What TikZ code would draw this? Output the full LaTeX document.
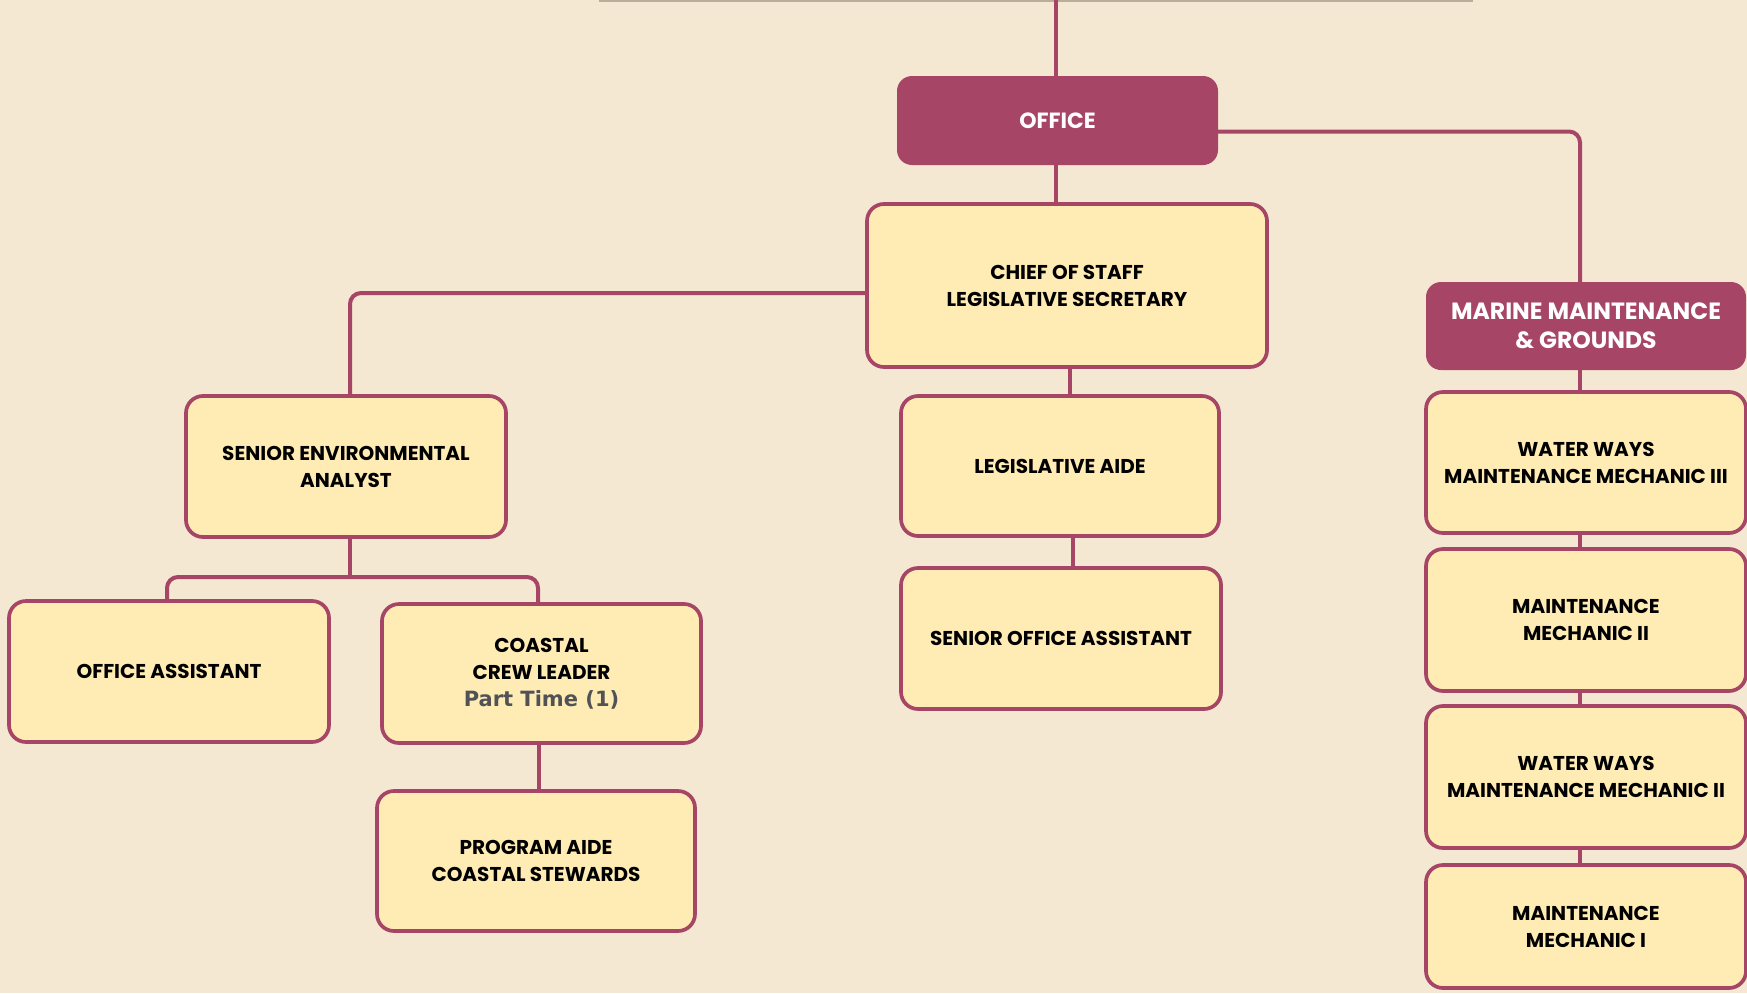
\documentclass[tikz,border=0pt]{standalone}
\usepackage{fontspec}
\setmainfont{Poppins}
\newfontfamily\ptfont{DejaVu Sans}
\usetikzlibrary{calc}
\definecolor{bgc}{HTML}{F5E8D2}
\definecolor{rasp}{HTML}{A64566}
\definecolor{boxfill}{HTML}{FFECB4}
\definecolor{topline}{HTML}{B9AE9C}
\definecolor{ptgray}{HTML}{505256}
\tikzset{
  role/.style={draw=rasp, line width=3.7pt, fill=boxfill, rounded corners=17pt,
    minimum width=#1, align=center, font=\fontsize{20}{27}\selectfont\bfseries, text=black, inner sep=0pt},
  head/.style={draw=none, fill=rasp, rounded corners=15pt, minimum width=#1,
    align=center, text=white, inner sep=0pt},
  conn/.style={draw=rasp, line width=4pt, rounded corners=11pt},
}
\begin{document}
\begin{tikzpicture}[x=1pt,y=-1pt]
\fill[bgc] (0,0) rectangle (1747,993);
\useasboundingbox (0,0) rectangle (1747,993);
% top gray line
\coordinate (tl) at (599,0.5);
\coordinate (tr) at (1473,0.5);
\draw[topline, line width=2pt] (tl) -- (tr);
% nodes
\node[head=321pt, minimum height=89pt, font=\fontsize{22}{27}\selectfont\bfseries] (office) at (1057.5,120.5) {OFFICE};
\node[role=400pt, minimum height=163pt] (chief) at (1067,285.5) {CHIEF OF STAFF\\LEGISLATIVE SECRETARY};
\node[role=320pt, minimum height=141pt] (senv) at (346,466.5) {SENIOR ENVIRONMENTAL\\ANALYST};
\node[role=320pt, minimum height=141pt] (oa) at (169,671.5) {OFFICE ASSISTANT};
\node[role=319pt, minimum height=139pt] (ccl) at (541.5,673.5) {COASTAL\\CREW LEADER\\{\ptfont\fontsize{21}{27}\selectfont\color{ptgray}Part Time (1)}};
\node[role=318pt, minimum height=140pt] (pa) at (536,861) {PROGRAM AIDE\\COASTAL STEWARDS};
\node[role=318pt, minimum height=140pt] (la) at (1060,466) {LEGISLATIVE AIDE};
\node[role=320pt, minimum height=141pt] (soa) at (1061,638.5) {SENIOR OFFICE ASSISTANT};
\node[head=320pt, minimum height=88pt, font=\fontsize{23.5}{29}\selectfont\bfseries] (marine) at (1586,326) {MARINE MAINTENANCE\\\& GROUNDS};
\node[role=320pt, minimum height=141pt] (ww3) at (1586,462.5) {WATER WAYS\\MAINTENANCE MECHANIC III};
\node[role=320pt, minimum height=142pt] (mm2) at (1586,620) {MAINTENANCE\\MECHANIC II};
\node[role=320pt, minimum height=142pt] (ww2) at (1586,777) {WATER WAYS\\MAINTENANCE MECHANIC II};
\node[role=320pt, minimum height=123pt] (mm1) at (1586,926.5) {MAINTENANCE\\MECHANIC I};
% connector reference points
\coordinate (topin) at (1056,0);
\coordinate (colx) at (1580,0);
\coordinate (bus) at (350,577);
\coordinate (senvx) at (350,0);
\coordinate (oax) at (167,0);
\coordinate (cclx) at (538,0);
\coordinate (pax) at (539,0);
\coordinate (lax) at (1070,0);
\coordinate (soax) at (1073,0);
\coordinate (chiefw) at ($(chief.west)+(0,7.5)$);
\coordinate (officee) at ($(office.east)+(0,11)$);
% connectors
\draw[conn] (topin) -- (topin |- office.north);
\draw[conn] (officee) -| (colx |- marine.north);
\draw[conn] (topin |- office.south) -- (topin |- chief.north);
\draw[conn] (chiefw) -| (senvx |- senv.north);
\draw[conn] (senvx |- senv.south) -- (bus);
\draw[conn] (oax |- oa.north) |- (bus) -| (cclx |- ccl.north);
\draw[conn] (pax |- ccl.south) -- (pax |- pa.north);
\draw[conn] (lax |- chief.south) -- (lax |- la.north);
\draw[conn] (soax |- la.south) -- (soax |- soa.north);
\draw[conn] (colx |- marine.south) -- (colx |- ww3.north);
\draw[conn] (colx |- ww3.south) -- (colx |- mm2.north);
\draw[conn] (colx |- mm2.south) -- (colx |- ww2.north);
\draw[conn] (colx |- ww2.south) -- (colx |- mm1.north);
\end{tikzpicture}
\end{document}
